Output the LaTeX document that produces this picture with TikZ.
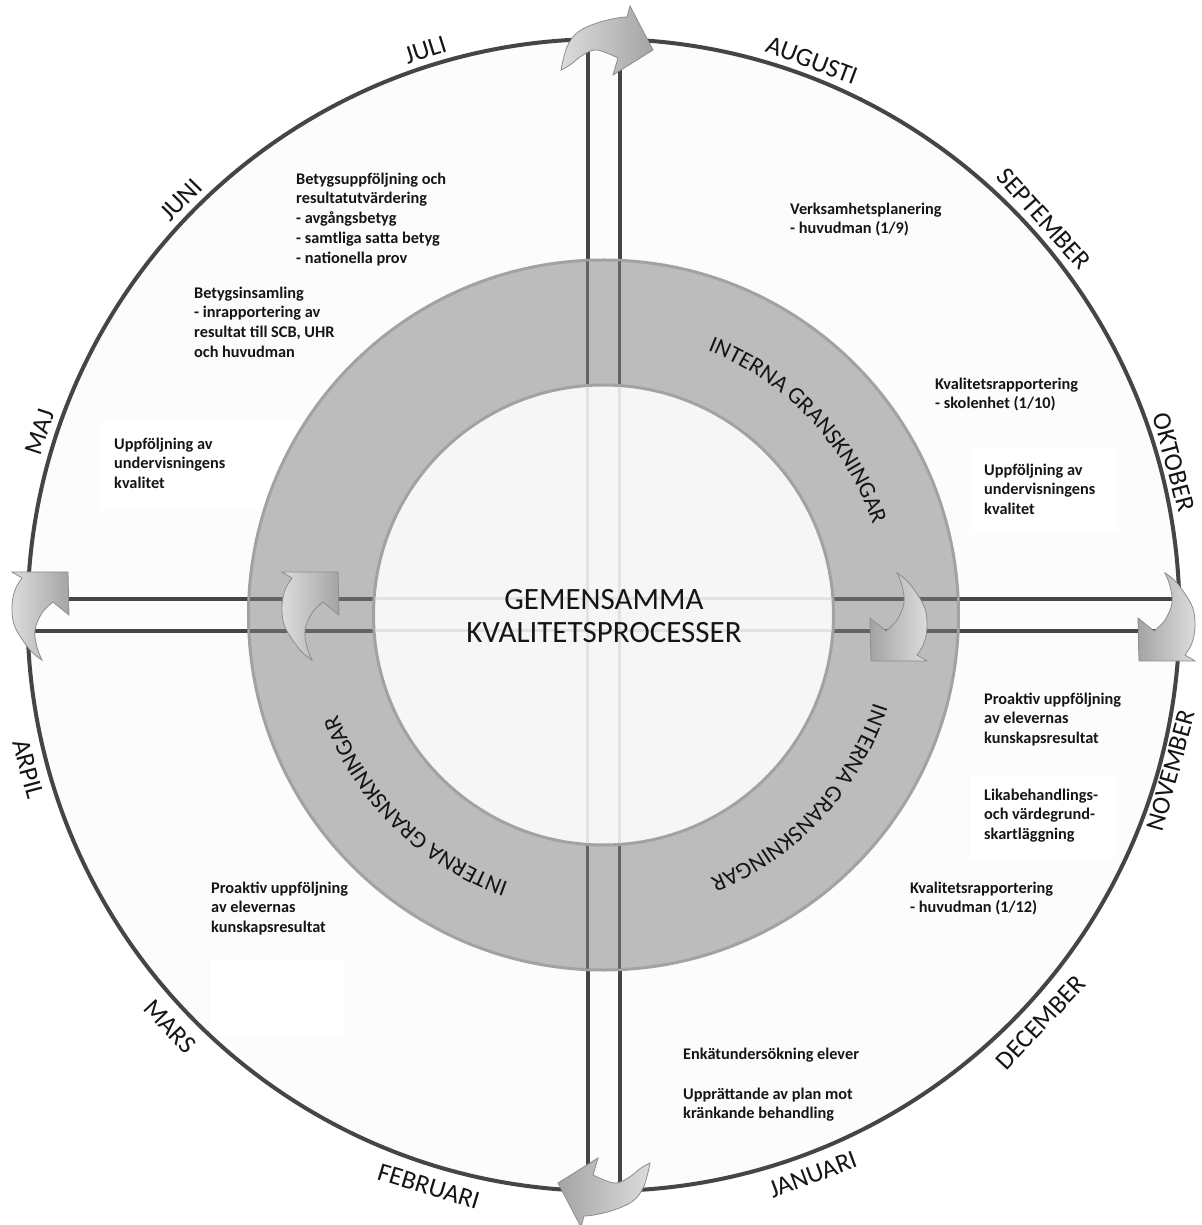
\documentclass[tikz,border=0pt]{standalone}
\usepackage{fontspec}
\setmainfont{Carlito}
\usetikzlibrary{decorations.text}
\definecolor{rimline}{HTML}{474442}
\definecolor{ringfill}{HTML}{BDBCBD}
\definecolor{ringedge}{HTML}{A2A2A2}
\definecolor{ringline}{HTML}{646262}
\definecolor{innerfill}{HTML}{F6F6F6}
\definecolor{innerline}{HTML}{E2E2E2}
\definecolor{discfill}{HTML}{FCFCFC}
\definecolor{arrowlight}{HTML}{DCDCDC}
\definecolor{arrowdark}{HTML}{A4A4A4}
\definecolor{arrowedge}{HTML}{8C8C8C}
\definecolor{inktext}{HTML}{151515}
\newcommand\monthfont{\fontsize{26}{30}\selectfont}
\newcommand\ringfont{\fontsize{23.5}{28}\selectfont}
\newcommand\notefont{\fontsize{16.3}{19.8}\selectfont\bfseries}
% ring label, clockwise, tops outward
\newcommand\ringlabel[1]{\path[decorate,decoration={text along path,text align=center,text color=inktext,text={|\ringfont|INTERNA GRANSKNINGAR}}] ({#1+30}:284) arc[start angle={#1+30},end angle={#1-30},radius=284];}
% curved arrow, type A (top / bottom)
\newcommand\arrowA[4]{\path[arrowbody,#4,shift={(#1,#2)}] plot[smooth,tension=0.6] coordinates {(#3*-46,#3*-30) (#3*-40,#3*-7) (#3*-29,#3*8) (#3*-10,#3*17) (#3*10,#3*22) (#3*20,#3*23)} -- (#3*23,#3*34) -- (#3*46,#3*-10) -- (#3*6,#3*-35) -- (#3*11,#3*-18) -- plot[smooth,tension=0.6] coordinates {(#3*11,#3*-18) (#3*-10,#3*-10) (#3*-24,#3*-15) (#3*-37,#3*-25) (#3*-46,#3*-30)} -- cycle;}
% curved arrow, type B (left / right)
\newcommand\arrowB[4]{\path[arrowbody,#4,shift={(#1,#2)}] plot[smooth,tension=0.6] coordinates {(#3*2,#3*-45) (#3*-10,#3*-35) (#3*-25,#3*-12) (#3*-28,#3*8) (#3*-25,#3*25) (#3*-18,#3*37)} -- (#3*-28,#3*43) -- (#3*28,#3*43) -- (#3*29,#3*0) -- (#3*13,#3*13) -- plot[smooth,tension=0.6] coordinates {(#3*13,#3*13) (#3*2,#3*2) (#3*-5,#3*-15) (#3*-3,#3*-32) (#3*2,#3*-45)} -- cycle;}
\begin{document}
\begin{tikzpicture}[x=1pt,y=1pt,
  note/.style={anchor=north west,inner sep=0pt,align=left,font=\notefont,text=inktext},
  month/.style={anchor=base,inner sep=0pt,font=\monthfont,text=inktext},
  arrowbody/.style={draw=arrowedge,line width=0.8pt},
  lightleft/.style={left color=arrowlight,right color=arrowdark},
  lightright/.style={left color=arrowdark,right color=arrowlight},
  crossline/.style={draw=rimline,line width=4pt},
  ringcross/.style={draw=ringline,line width=3.5pt},
  innercross/.style={draw=innerline,line width=3pt},
  whitebox/.style={fill=white,draw=none}]
\useasboundingbox (-603.5,-610) rectangle (597.5,615);
\fill[white] (-603.5,-610) rectangle (597.5,615);
% outer disc
\fill[discfill] (0,0) circle (576);
\fill[whitebox] (-503.5,193.3) rectangle (-156.8,105);
\fill[whitebox] (368.2,168.3) rectangle (513.2,83);
\fill[whitebox] (366.5,-160) rectangle (511.5,-245);
\fill[whitebox] (-393.5,-345) rectangle (-260.5,-422);
% cross line end points
\coordinate (vlt) at (-16,575.8);
\coordinate (vlb) at (-16,-575.8);
\coordinate (vrt) at (16,575.8);
\coordinate (vrb) at (16,-575.8);
\coordinate (hul) at (-575.8,16);
\coordinate (hur) at (575.8,16);
\coordinate (hll) at (-575.8,-16);
\coordinate (hlr) at (575.8,-16);
\draw[crossline] (vlt) -- (vlb);
\draw[crossline] (vrt) -- (vrb);
\draw[crossline] (hul) -- (hur);
\draw[crossline] (hll) -- (hlr);
% ring
\filldraw[fill=ringfill,draw=ringedge,line width=3pt] (0,0) circle (355);
\begin{scope}
\clip (0,0) circle (354);
\draw[ringcross] (vlt) -- (vlb);
\draw[ringcross] (vrt) -- (vrb);
\draw[ringcross] (hul) -- (hur);
\draw[ringcross] (hll) -- (hlr);
\end{scope}
\filldraw[fill=innerfill,draw=ringedge,line width=3pt] (0,0) circle (230);
\begin{scope}
\clip (0,0) circle (228.5);
\draw[innercross] (vlt) -- (vlb);
\draw[innercross] (vrt) -- (vrb);
\draw[innercross] (hul) -- (hur);
\draw[innercross] (hll) -- (hlr);
\end{scope}
% outer circle
\draw[rimline,line width=4pt] (0,0) circle (576);
% month labels: upper ones tops outward, lower ones tops inward
\node[month,rotate=17.5] (jul) at (107.5:584) {JULI};
\node[month,rotate=-20.6] (aug) at (69.4:584) {AUGUSTI};
\node[month,rotate=-48] (sep) at (42:584) {SEPTEMBER};
\node[month,rotate=-75] (okt) at (15:582) {OKTOBER};
\node[month,rotate=74.7] (nov) at (-15.3:597) {NOVEMBER};
\node[month,rotate=45.5] (jun) at (135.5:584) {JUNI};
\node[month,rotate=72] (maj) at (162:584) {MAJ};
\node[month,rotate=47] (dec) at (-43:606) {DECEMBER};
\node[month,rotate=20.5] (jan) at (-69.5:606) {JANUARI};
\node[month,rotate=-17] (feb) at (-107:606) {FEBRUARI};
\node[month,rotate=-46.5] (mar) at (-136.5:606) {MARS};
\node[month,rotate=-75] (apr) at (-165:604) {ARPIL};
% ring labels
\ringlabel{43.5}
\ringlabel{-43}
\ringlabel{-134.5}
% centre
\node[align=center,font=\fontsize{31}{33}\selectfont,text=inktext,inner sep=0pt] (centre) at (0.5,-1.5) {GEMENSAMMA\\KVALITETSPROCESSER};
% notes
\node[note] (n1) at (-307.5,442.5) {Betygsuppföljning och\\resultatutvärdering\\- avgångsbetyg\\- samtliga satta betyg\\- nationella prov};
\node[note] (n2) at (-409.5,328.5) {Betygsinsamling\\- inrapportering av\\resultat till SCB, UHR\\och huvudman};
\node[note] (n3) at (-489.5,177.5) {Uppföljning av\\undervisningens\\kvalitet};
\node[note] (n4) at (186.5,412.5) {Verksamhetsplanering\\- huvudman (1/9)};
\node[note] (n5) at (331.5,237.5) {Kvalitetsrapportering\\- skolenhet (1/10)};
\node[note] (n6) at (380.5,151.5) {Uppföljning av\\undervisningens\\kvalitet};
\node[note] (n7) at (380.5,-77.5) {Proaktiv uppföljning\\av elevernas\\kunskapsresultat};
\node[note] (n8) at (380.5,-173.5) {Likabehandlings-\\och värdegrund-\\skartläggning};
\node[note] (n9) at (306.5,-266.5) {Kvalitetsrapportering\\- huvudman (1/12)};
\node[note] (n10) at (-392.5,-266.5) {Proaktiv uppföljning\\av elevernas\\kunskapsresultat};
\node[note] (n11) at (79.5,-432.5) {Enkätundersökning elever};
\node[note] (n12) at (79.5,-472.5) {Upprättande av plan mot\\kränkande behandling};
% curved arrows
\arrowA{3.5}{575}{1}{lightleft}
\arrowA{0.5}{-578}{-1}{lightright}
\arrowB{-563.5}{0}{1}{lightleft}
\arrowB{-293.5}{0}{1}{lightleft}
\arrowB{295.5}{-3}{-1}{lightright}
\arrowB{563.5}{-3}{-1}{lightright}
\end{tikzpicture}
\end{document}
